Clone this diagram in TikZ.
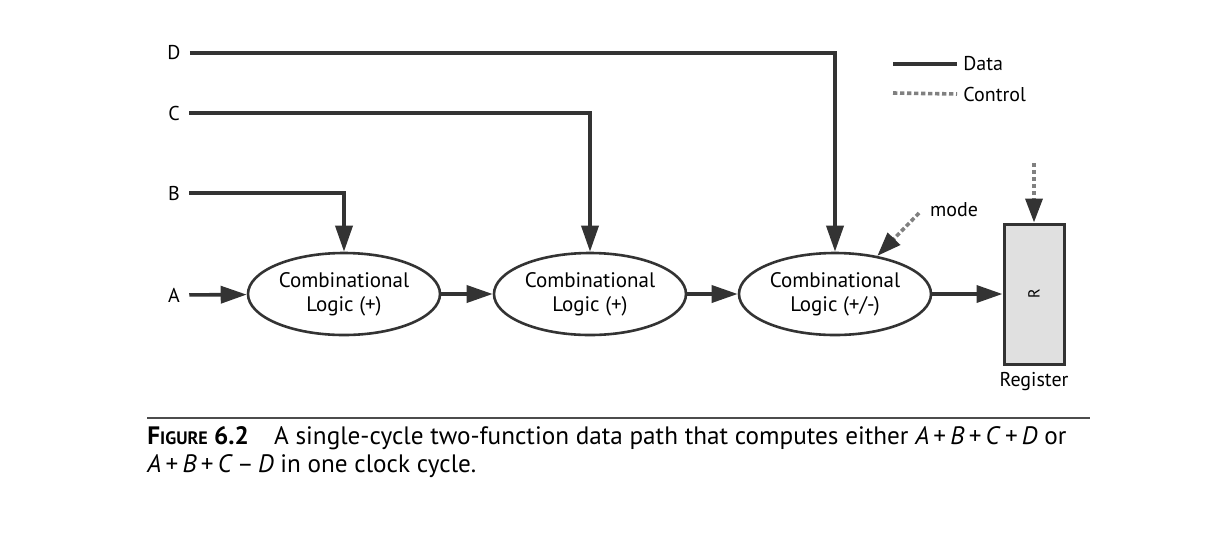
\documentclass[tikz,border=0pt]{standalone}
\usepackage{fontspec}
\setmainfont{PT Sans}
\usetikzlibrary{arrows.meta,positioning,shapes.geometric}
\tikzset{
	wire/.style={draw=black!80, line width=1.8pt},
	ar/.style={wire, -{Triangle[length=13pt,width=8.5pt]}},
	ctl/.style={draw=black!50, line width=1.8pt, dash pattern=on 2.2pt off 1.3pt},
	ctlar/.style={ctl, -{Triangle[length=12pt,width=8.5pt,color=black!80]}},
	comb/.style={ellipse, draw=black!80, line width=1.3pt, minimum width=96pt,
		minimum height=41pt, align=center, inner sep=0pt,
		font=\fontsize{10.5}{12}\selectfont},
	reg/.style={draw=black!80, fill=black!12, line width=1.5pt,
		minimum width=30pt, minimum height=70pt, inner sep=0pt},
	lbl/.style={font=\fontsize{10}{12}\selectfont, inner sep=1pt},
	inp/.style={lbl, inner xsep=4.5pt},
	captext/.style={font=\fontsize{12.6}{14}\selectfont, inner sep=0pt, align=left}
}
\begin{document}
\begin{tikzpicture}[x=0.5pt, y=-0.5pt]
	\useasboundingbox (0,0) rectangle (1230,547);
	\node[comb] (c1) at (344,294) {Combinational\\Logic (+)};
	\node[comb] (c2) at (590,294) {Combinational\\Logic (+)};
	\node[comb] (c3) at (835,294) {Combinational\\Logic (+/-)};
	\node[reg] (r) at (1034,294) {\rotatebox{90}{\fontsize{8}{9}\selectfont R}};
	\node[lbl, below=2pt of r] (rl) {Register};
	\node[inp] (a) at (174,295) {A};
	\node[inp] (b) at (174,193) {B};
	\node[inp] (c) at (174,113) {C};
	\node[inp] (d) at (174,53) {D};
	\node[lbl] (m) at (954,210) {mode};
	\coordinate (m0) at (919,213);
	\coordinate (k) at (1034,163);
	\draw[ar] (a) -- (c1);
	\draw[ar] (b) -| (c1);
	\draw[ar] (c) -| (c2);
	\draw[ar] (d) -| (c3);
	\draw[ar] (c1) -- (c2);
	\draw[ar] (c2) -- (c3);
	\draw[ar] (c3) -- (r);
	\draw[ctlar] (m0) -- (c3.42);
	\draw[ctlar] (k) -- (r);
	\coordinate (l1) at (893,64);
	\coordinate (l2) at (893,93);
	\node[lbl, anchor=west, inner xsep=3pt] (ld) at (957,64) {Data};
	\node[lbl, anchor=west, inner xsep=3pt] (lc) at (957,94) {Control};
	\draw[wire] (l1) -- (ld.west);
	\draw[ctl] (l2) -- (lc.west);
	\draw[line width=1.3pt, black!70] (147,418) -- (1090,418);
	\node[captext, anchor=north west] (fig) at (147,426)
		{\textbf{F{\fontsize{9}{10}\selectfont IGURE} 6.2}\quad A single-cycle two-function data path that computes either \textit{A}\,+\,\textit{B}\,+\,\textit{C}\,+\,\textit{D} or\\
		\textit{A}\,+\,\textit{B}\,+\,\textit{C}\,--\,\textit{D} in one clock cycle.};
\end{tikzpicture}
\end{document}
